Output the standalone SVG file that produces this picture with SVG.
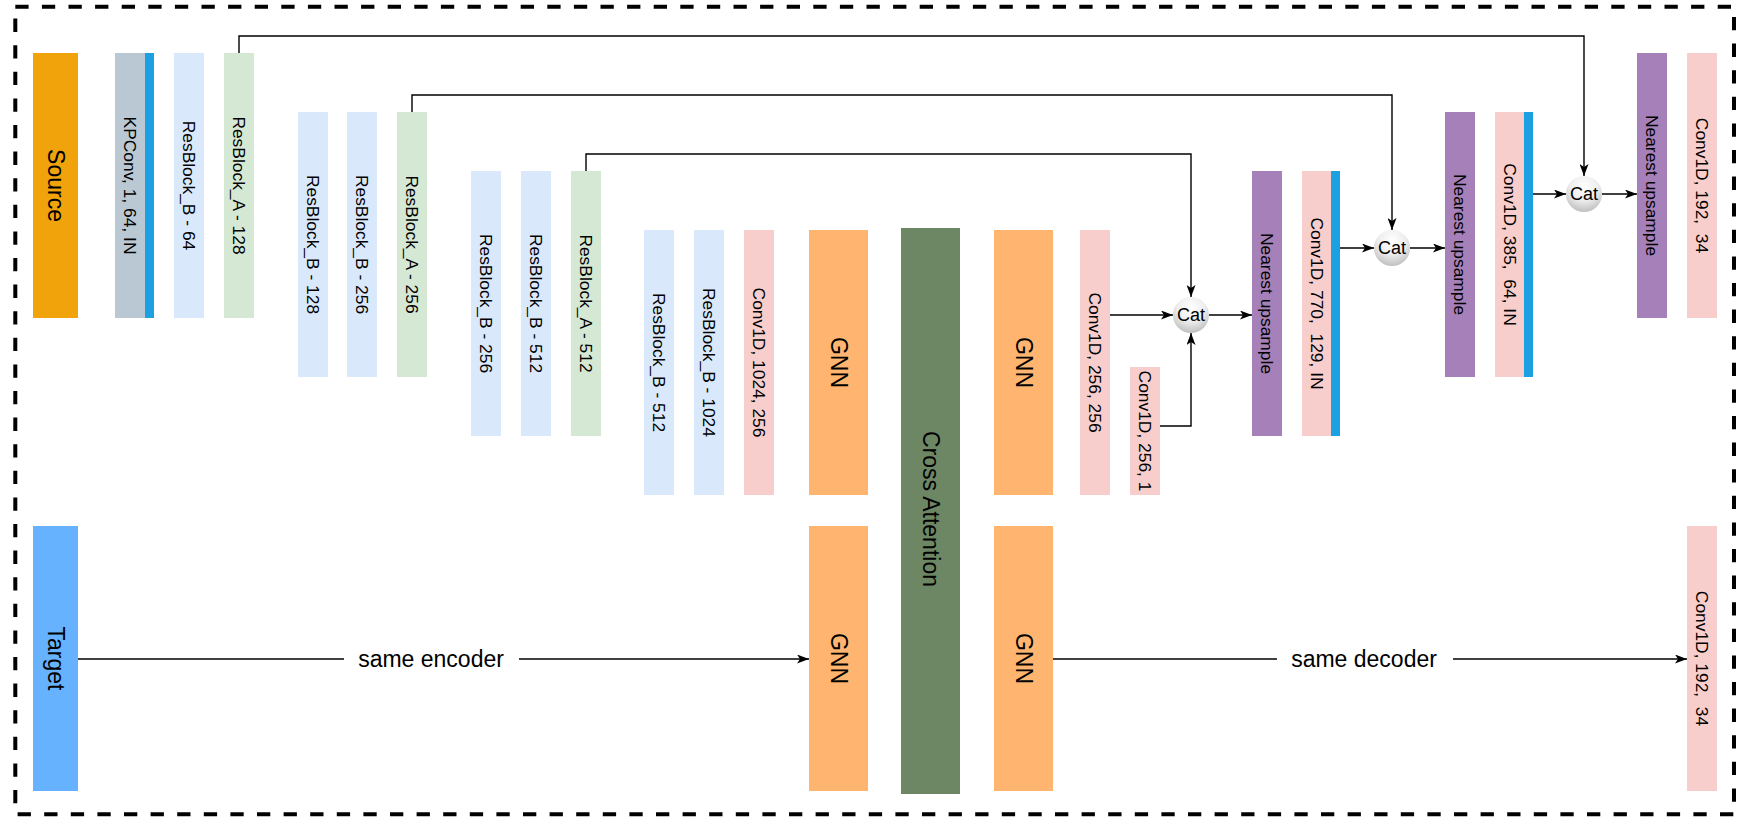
<svg xmlns="http://www.w3.org/2000/svg" width="1745" height="829" viewBox="0 0 1745 829">
  <style>
    text { font-family: "Liberation Sans", Arial, sans-serif; fill: #000; white-space: pre; }
    .v { font-size: 17.4px; text-anchor: middle; dominant-baseline: central; }
    .big { font-size: 23px; text-anchor: middle; dominant-baseline: central; }
    .cat { font-size: 18px; text-anchor: middle; dominant-baseline: central; }
    .rbB { fill: #DAE8FC; }
    .rbA { fill: #D5E8D4; }
    .conv { fill: #F8CECC; }
    .gnn { fill: #FFB570; }
    .up { fill: #A680B8; }
    .strip { fill: #1BA1E2; }
    .edge { fill: none; stroke: #000; stroke-width: 1.4; }
  </style>
  <defs>
    <marker id="arr" markerUnits="userSpaceOnUse" markerWidth="12" markerHeight="9" refX="12" refY="4.5" orient="auto">
      <path d="M0,0 L12,4.5 L0,9 L3,4.5 Z" fill="#000"/>
    </marker>
    <radialGradient id="catg" cx="50%" cy="30%" r="75%">
      <stop offset="0" stop-color="#ffffff"/>
      <stop offset="0.5" stop-color="#eeeeee"/>
      <stop offset="1" stop-color="#b8b8b8"/>
    </radialGradient>
  </defs>
  <rect width="1745" height="829" fill="#fff"/>
  <rect x="15.3" y="6.7" width="1718.7" height="807.6" fill="none" stroke="#000" stroke-width="4" stroke-dasharray="13.3 13.3"/>

  <g id="edges">
    <path class="edge" d="M239,53 V36 H1584 V176" marker-end="url(#arr)"/>
    <path class="edge" d="M412,112 V95 H1392 V230" marker-end="url(#arr)"/>
    <path class="edge" d="M586,171 V154 H1191 V297" marker-end="url(#arr)"/>
    <path class="edge" d="M1110,315 H1173" marker-end="url(#arr)"/>
    <path class="edge" d="M1160,426 H1191 V333" marker-end="url(#arr)"/>
    <path class="edge" d="M1209,315 H1252" marker-end="url(#arr)"/>
    <path class="edge" d="M1340,248 H1374" marker-end="url(#arr)"/>
    <path class="edge" d="M1410,248 H1445" marker-end="url(#arr)"/>
    <path class="edge" d="M1533,194 H1566" marker-end="url(#arr)"/>
    <path class="edge" d="M1602,194 H1637" marker-end="url(#arr)"/>
    <path class="edge" d="M78,659 H809" marker-end="url(#arr)"/>
    <rect x="344" y="645" width="175" height="28" fill="#fff"/>
    <text class="big" x="431" y="659">same encoder</text>
    <path class="edge" d="M1053,659 H1687" marker-end="url(#arr)"/>
    <rect x="1277" y="645" width="176" height="28" fill="#fff"/>
    <text class="big" x="1364" y="659">same decoder</text>
  </g>

  <g id="source"><rect x="33" y="53" width="45" height="265" fill="#F0A30A"/><text class="big" transform="translate(55.5,185.5) rotate(90)">Source</text></g>
  <g id="target"><rect x="33" y="526" width="45" height="265" fill="#66B2FF"/><text class="big" transform="translate(55.5,658.5) rotate(90)">Target</text></g>

  <g id="kpconv"><rect x="115" y="53" width="30" height="265" fill="#BAC8D3"/><rect class="strip" x="145" y="53" width="9" height="265"/><text class="v" transform="translate(130,185.5) rotate(90)">KPConv, 1, 64, IN</text></g>
  <g id="rbB64"><rect class="rbB" x="174" y="53" width="30" height="265"/><text class="v" transform="translate(189,185.5) rotate(90)">ResBlock_B - 64</text></g>
  <g id="rbA128"><rect class="rbA" x="224" y="53" width="30" height="265"/><text class="v" transform="translate(239,185.5) rotate(90)">ResBlock_A - 128</text></g>

  <g id="rbB128"><rect class="rbB" x="298" y="112" width="30" height="265"/><text class="v" transform="translate(313,244.5) rotate(90)">ResBlock_B - 128</text></g>
  <g id="rbB256a"><rect class="rbB" x="347" y="112" width="30" height="265"/><text class="v" transform="translate(362,244.5) rotate(90)">ResBlock_B - 256</text></g>
  <g id="rbA256"><rect class="rbA" x="397" y="112" width="30" height="265"/><text class="v" transform="translate(412,244.5) rotate(90)">ResBlock_A - 256</text></g>

  <g id="rbB256b"><rect class="rbB" x="471" y="171" width="30" height="265"/><text class="v" transform="translate(486,303.5) rotate(90)">ResBlock_B - 256</text></g>
  <g id="rbB512a"><rect class="rbB" x="521" y="171" width="30" height="265"/><text class="v" transform="translate(536,303.5) rotate(90)">ResBlock_B - 512</text></g>
  <g id="rbA512"><rect class="rbA" x="571" y="171" width="30" height="265"/><text class="v" transform="translate(586,303.5) rotate(90)">ResBlock_A - 512</text></g>

  <g id="rbB512b"><rect class="rbB" x="644" y="230" width="30" height="265"/><text class="v" transform="translate(659,362.5) rotate(90)">ResBlock_B - 512</text></g>
  <g id="rbB1024"><rect class="rbB" x="694" y="230" width="30" height="265"/><text class="v" transform="translate(709,362.5) rotate(90)">ResBlock_B - 1024</text></g>
  <g id="conv1024"><rect class="conv" x="744" y="230" width="30" height="265"/><text class="v" transform="translate(759,362.5) rotate(90)">Conv1D, 1024, 256</text></g>

  <g id="gnn1"><rect class="gnn" x="809" y="230" width="59" height="265"/><text class="big" transform="translate(838.5,362.5) rotate(90)">GNN</text></g>
  <g id="gnn2"><rect class="gnn" x="809" y="526" width="59" height="265"/><text class="big" transform="translate(838.5,658.5) rotate(90)">GNN</text></g>
  <g id="crossattn"><rect x="901" y="228" width="59" height="566" fill="#6D8764"/><text class="big" transform="translate(930.5,509) rotate(90)">Cross Attention</text></g>
  <g id="gnn3"><rect class="gnn" x="994" y="230" width="59" height="265"/><text class="big" transform="translate(1023.5,362.5) rotate(90)">GNN</text></g>
  <g id="gnn4"><rect class="gnn" x="994" y="526" width="59" height="265"/><text class="big" transform="translate(1023.5,658.5) rotate(90)">GNN</text></g>

  <g id="conv256"><rect class="conv" x="1080" y="230" width="30" height="265"/><text class="v" transform="translate(1095,362.5) rotate(90)">Conv1D, 256, 256</text></g>
  <g id="conv1"><rect class="conv" x="1130" y="367" width="30" height="128"/><text class="v" transform="translate(1145,431) rotate(90)">Conv1D, 256, 1</text></g>

  <g id="cat1"><circle cx="1191" cy="315" r="18" fill="url(#catg)"/><text class="cat" x="1191" y="315">Cat</text></g>
  <g id="up1"><rect class="up" x="1252" y="171" width="30" height="265"/><text class="v" transform="translate(1267,303.5) rotate(90)">Nearest upsample</text></g>
  <g id="conv770"><rect class="conv" x="1302" y="171" width="29" height="265"/><rect class="strip" x="1331" y="171" width="9" height="265"/><text class="v" transform="translate(1316.5,303.5) rotate(90)">Conv1D, 770,  129, IN</text></g>

  <g id="cat2"><circle cx="1392" cy="248" r="18" fill="url(#catg)"/><text class="cat" x="1392" y="248">Cat</text></g>
  <g id="up2"><rect class="up" x="1445" y="112" width="30" height="265"/><text class="v" transform="translate(1460,244.5) rotate(90)">Nearest upsample</text></g>
  <g id="conv385"><rect class="conv" x="1495" y="112" width="29" height="265"/><rect class="strip" x="1524" y="112" width="9" height="265"/><text class="v" transform="translate(1509.5,244.5) rotate(90)">Conv1D, 385,  64, IN</text></g>

  <g id="cat3"><circle cx="1584" cy="194" r="18" fill="url(#catg)"/><text class="cat" x="1584" y="194">Cat</text></g>
  <g id="up3"><rect class="up" x="1637" y="53" width="30" height="265"/><text class="v" transform="translate(1652,185.5) rotate(90)">Nearest upsample</text></g>
  <g id="conv192a"><rect class="conv" x="1687" y="53" width="30" height="265"/><text class="v" transform="translate(1702,185.5) rotate(90)">Conv1D, 192,  34</text></g>
  <g id="conv192b"><rect class="conv" x="1687" y="526" width="30" height="265"/><text class="v" transform="translate(1702,658.5) rotate(90)">Conv1D, 192,  34</text></g>
</svg>
